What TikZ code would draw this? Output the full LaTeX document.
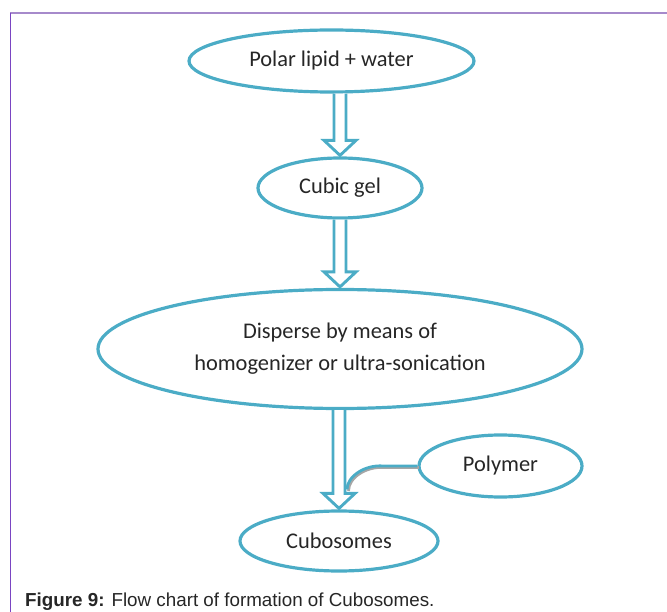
\documentclass[tikz,border=0pt]{standalone}
\usepackage{fontspec}
\setmainfont{Carlito}
\newfontfamily\capfont{Liberation Sans}
\usetikzlibrary{shapes.geometric,calc}
\definecolor{accent}{HTML}{4BACC6}
\definecolor{txt}{HTML}{262626}
\definecolor{frametop}{HTML}{A68ACB}
\definecolor{frameleft}{HTML}{7A45C2}
\tikzset{
  bubble/.style={ellipse, draw=accent, line width=3.2pt, inner sep=0pt,
    text=txt, font=\fontsize{22.4}{32}\selectfont, align=center},
  hollow/.style={draw=accent, line width=2.9pt, fill=white, line join=miter},
}
\begin{document}
\begin{tikzpicture}[x=1pt,y=-1pt]
\useasboundingbox (0,0) rectangle (667,612);
\draw[frametop, line width=1.6pt] (10,13) -- (667,13);
\draw[frameleft, line width=1.6pt] (10.5,13) -- (10.5,612);

\node[bubble, minimum width=285pt, minimum height=62pt] (polar) at (331.5,61) {Polar lipid + water};
\node[bubble, minimum width=164pt, minimum height=60pt] (gel) at (340,188) {Cubic gel};
\node[bubble, minimum width=484pt, minimum height=119pt] (disp) at (340,349) {Disperse by means of\\homogenizer or ultra-sonication};
\node[bubble, minimum width=163pt, minimum height=62pt] (poly) at (500.5,466) {Polymer};
\node[bubble, minimum width=198pt, minimum height=60pt] (cubo) at (339,541) {Cubosomes};

\foreach \a/\b in {polar/gel, gel/disp, disp/cubo}{
  \path let \p1=(\a.south), \p2=(\b.north) in
    [hollow] (\x2-6pt,\y1) -- (\x2-6pt,\y2+16pt) -- (\x2-16pt,\y2+16pt) -- (\x2,\y2+1pt)
    -- (\x2+16pt,\y2+16pt) -- (\x2+6pt,\y2+16pt) -- (\x2+6pt,\y1);
}

\coordinate (join) at ($(cubo.north)+(8,-20)$);
\draw[gray!70, line width=2.8pt] ([shift={(1.5,1.5)}]poly.west) -- ++(-34,0)
  .. controls ($(join)+(19.5,-23.5)$) and ($(join)+(1.5,-12)$) .. ($(join)+(1.5,1.5)$);
\draw[accent, line width=2.8pt] (poly.west) -- ++(-34,0)
  .. controls ($(join)+(18,-25)$) and ($(join)+(0,-13)$) .. (join);

\node[anchor=base west, font=\capfont\fontsize{18.8}{22}\selectfont, text=txt, inner sep=0pt] (cap) at (25,606)
  {\textbf{Figure 9:} Flow chart of formation of Cubosomes.};
\end{tikzpicture}
\end{document}
